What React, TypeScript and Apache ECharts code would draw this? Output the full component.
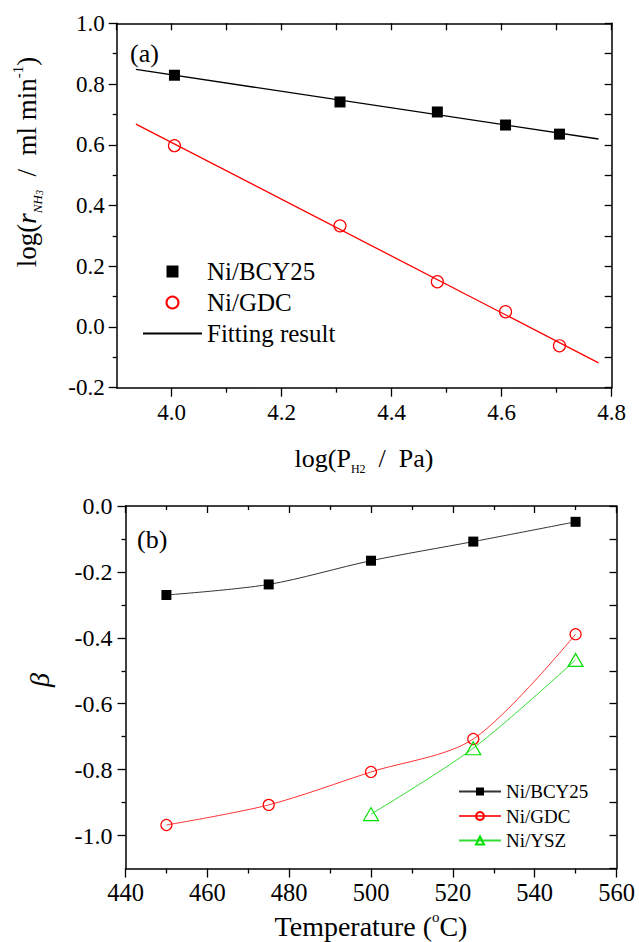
import React, { useEffect, useRef } from 'react';
import * as echarts from 'echarts';

// ---- panel (a) data ----
const logPH2 = [4.005, 4.306, 4.483, 4.607, 4.705];
const rateBCY25 = [0.829, 0.741, 0.708, 0.665, 0.635];
const rateGDC = [0.597, 0.333, 0.149, 0.05, -0.062];
const fitLogPH2 = [3.935, 4.776];
const fitBCY25 = [0.848, 0.619];
const fitGDC = [0.668, -0.118];

// ---- panel (b) data ----
const temperatures = [450, 475, 500, 525, 550];
const betaBCY25 = [-0.27, -0.238, -0.166, -0.108, -0.048];
const betaGDC = [-0.968, -0.907, -0.807, -0.707, -0.389];
const temperaturesYSZ = [500, 525, 550];
const betaYSZ = [-0.935, -0.735, -0.467];

// ---- tick labels ----
const xTicksA = [4.0, 4.2, 4.4, 4.6, 4.8];
const xMinorTicksA = [4.1, 4.3, 4.5, 4.7];
const yTicksB = [-1.0, -0.8, -0.6, -0.4, -0.2, 0.0];
const yMinorTicksB = [-0.9, -0.7, -0.5, -0.3, -0.1];

const FONT = "'Liberation Serif', 'Times New Roman', serif";
const BLACK = '#000000';
const RED = '#ff0000';
const GREEN = '#00e000';

const pairs = (xs: number[], ys: number[]) => xs.map((x, i) => [x, ys[i]]);

const axisLine = { show: true, onZero: false, lineStyle: { color: BLACK, width: 1.5 } };
const noLine = { show: false, onZero: false };
const tickLine = { color: BLACK, width: 1.3 };
const richLabel = (size: number) => ({
  t: { fontFamily: FONT, fontSize: size, color: BLACK, lineHeight: size + 2 },
});
const fmt1 = (v: number) => `{t|${v.toFixed(1)}}`;
const fmt0 = (v: number) => `{t|${String(v)}}`;

const option: any = {
  animation: false,
  backgroundColor: '#ffffff',
  textStyle: { fontFamily: FONT, color: BLACK },
  grid: [
    { left: 116.7, top: 23.3, width: 495, height: 364.4, outerBoundsMode: 'none' },
    { left: 125.5, top: 506, width: 491, height: 362.5, outerBoundsMode: 'none' },
  ],
  xAxis: [
    {
      type: 'value', gridIndex: 0, position: 'bottom', min: 3.9, max: 4.8,
      axisLine, splitLine: { show: false },
      axisTick: { show: true, customValues: xTicksA, length: 9, lineStyle: tickLine },
      axisLabel: { margin: 12, customValues: xTicksA, formatter: fmt1, rich: richLabel(23) },
    },
    {
      type: 'value', gridIndex: 0, position: 'bottom', min: 3.9, max: 4.8,
      axisLine: noLine, splitLine: { show: false },
      axisTick: { show: true, customValues: xMinorTicksA, length: 5, lineStyle: tickLine },
      axisLabel: { show: false },
    },
    {
      type: 'value', gridIndex: 0, position: 'top', min: 3.9, max: 4.8, interval: 0.1,
      axisLine, splitLine: { show: false },
      axisTick: { show: true, inside: true, length: 7, lineStyle: tickLine },
      axisLabel: { show: false },
    },
    {
      type: 'value', gridIndex: 1, position: 'bottom', min: 440, max: 560, interval: 20,
      axisLine, splitLine: { show: false },
      axisTick: { show: true, length: 9, lineStyle: tickLine },
      minorTick: { show: true, splitNumber: 2, length: 5, lineStyle: tickLine },
      axisLabel: { margin: 11, formatter: fmt0, rich: richLabel(24.5) },
    },
    {
      type: 'value', gridIndex: 1, position: 'top', min: 440, max: 560, interval: 20,
      axisLine, splitLine: { show: false },
      axisTick: { show: true, inside: true, length: 7, lineStyle: tickLine },
      minorTick: { show: true, splitNumber: 2, length: 4, lineStyle: tickLine },
      axisLabel: { show: false },
    },
  ],
  yAxis: [
    {
      type: 'value', gridIndex: 0, position: 'left', min: -0.2, max: 1.0, interval: 0.2,
      axisLine, splitLine: { show: false },
      axisTick: { show: true, length: 8, lineStyle: tickLine },
      minorTick: { show: true, splitNumber: 2, length: 4, lineStyle: tickLine },
      axisLabel: { margin: 12, formatter: fmt1, rich: richLabel(23) },
    },
    {
      type: 'value', gridIndex: 0, position: 'right', min: -0.2, max: 1.0, interval: 0.1,
      axisLine, splitLine: { show: false },
      axisTick: { show: true, inside: true, length: 7, lineStyle: tickLine },
      axisLabel: { show: false },
    },
    {
      type: 'value', gridIndex: 1, position: 'left', min: -1.1, max: 0,
      axisLine, splitLine: { show: false },
      axisTick: { show: true, customValues: yTicksB, length: 8, lineStyle: tickLine },
      axisLabel: { margin: 13, customValues: yTicksB, formatter: fmt1, rich: richLabel(24) },
    },
    {
      type: 'value', gridIndex: 1, position: 'left', min: -1.1, max: 0,
      axisLine: noLine, splitLine: { show: false },
      axisTick: { show: true, customValues: yMinorTicksB, length: 4, lineStyle: tickLine },
      axisLabel: { show: false },
    },
    {
      type: 'value', gridIndex: 1, position: 'right', min: -1.1, max: 0, interval: 0.1,
      axisLine, splitLine: { show: false },
      axisTick: { show: true, inside: true, length: 7, lineStyle: tickLine },
      axisLabel: { show: false },
    },
  ],
  legend: [
    {
      data: [
        { name: 'Ni/BCY25', icon: 'path://M0 0H10V10H0Z' },
        'Ni/GDC',
        { name: 'Fitting result', itemStyle: { opacity: 0 } },
      ],
      formatter: (name: string) => `{t|${name}}`,
      orient: 'vertical', left: 142, top: 259, padding: 0,
      itemWidth: 59, itemHeight: 12, itemGap: 6,
      symbolKeepAspect: true,
      selectedMode: false,
      textStyle: {
        color: BLACK, fontFamily: FONT, fontSize: 25,
        rich: { t: { fontFamily: FONT, fontSize: 25, color: BLACK, lineHeight: 20 } },
      },
    },
    {
      data: ['b-Ni/BCY25', 'b-Ni/GDC', 'b-Ni/YSZ'],
      formatter: (name: string) => `{t|${name.replace('b-', '')}}`,
      orient: 'vertical', left: 458, top: 782, padding: 0,
      itemWidth: 42, itemHeight: 10, itemGap: 5.5,
      selectedMode: false,
      textStyle: {
        color: BLACK, fontFamily: FONT, fontSize: 19,
        rich: { t: { fontFamily: FONT, fontSize: 19, color: BLACK, lineHeight: 16 } },
      },
    },
  ],
  series: [
    {
      name: 'Fitting result', type: 'line', xAxisIndex: 0, yAxisIndex: 0,
      data: pairs(fitLogPH2, fitBCY25), symbol: 'none',
      itemStyle: { color: BLACK }, lineStyle: { color: BLACK, width: 1.3 }, z: 2,
    },
    {
      name: 'fit-GDC', type: 'line', xAxisIndex: 0, yAxisIndex: 0,
      data: pairs(fitLogPH2, fitGDC), symbol: 'none',
      itemStyle: { color: RED }, lineStyle: { color: RED, width: 1.3 }, z: 2,
    },
    {
      name: 'Ni/BCY25', type: 'scatter', xAxisIndex: 0, yAxisIndex: 0,
      data: pairs(logPH2, rateBCY25), symbol: 'rect', symbolSize: 11,
      itemStyle: { color: BLACK, opacity: 1 }, z: 3,
    },
    {
      name: 'Ni/GDC', type: 'scatter', xAxisIndex: 0, yAxisIndex: 0,
      data: pairs(logPH2, rateGDC), symbol: 'circle', symbolSize: 12,
      itemStyle: { color: 'rgba(255,255,255,0)', borderColor: RED, borderWidth: 1.2, opacity: 1 }, z: 3,
    },
    {
      name: 'b-Ni/BCY25', type: 'line', xAxisIndex: 3, yAxisIndex: 2,
      data: pairs(temperatures, betaBCY25), smooth: 0.3,
      symbol: 'rect', symbolSize: 10,
      itemStyle: { color: BLACK }, lineStyle: { color: '#333333', width: 1 }, z: 3,
    },
    {
      name: 'b-Ni/GDC', type: 'line', xAxisIndex: 3, yAxisIndex: 2,
      data: pairs(temperatures, betaGDC), smooth: 0.3,
      symbol: 'circle', symbolSize: 11,
      itemStyle: { color: 'rgba(255,255,255,0)', borderColor: RED, borderWidth: 1.2 },
      lineStyle: { color: '#ff3333', width: 1 }, z: 3,
    },
    {
      name: 'b-Ni/YSZ', type: 'line', xAxisIndex: 3, yAxisIndex: 2,
      data: pairs(temperaturesYSZ, betaYSZ), smooth: 0.3,
      symbol: 'triangle', symbolSize: [15, 13],
      itemStyle: { color: 'rgba(255,255,255,0)', borderColor: GREEN, borderWidth: 1.2 },
      lineStyle: { color: '#33dd33', width: 1 }, z: 3,
    },
  ],
  graphic: [
    {
      type: 'text', x: 130, y: 53,
      style: { text: '(a)', fill: BLACK, fontFamily: FONT, fontSize: 26, align: 'left', verticalAlign: 'middle', textAlign: 'left', textVerticalAlign: 'middle' },
    },
    {
      type: 'text', x: 137, y: 539,
      style: { text: '(b)', fill: BLACK, fontFamily: FONT, fontSize: 26, align: 'left', verticalAlign: 'middle', textAlign: 'left', textVerticalAlign: 'middle' },
    },
    {
      type: 'text', x: 364, y: 458,
      style: {
        text: '{n|log(P}{s|H2}{n|  /  Pa)}',
        fill: BLACK, fontFamily: FONT, fontSize: 26,
        align: 'center', verticalAlign: 'middle', textAlign: 'center', textVerticalAlign: 'middle',
        rich: {
          n: { fontFamily: FONT, fontSize: 26, lineHeight: 34, fill: BLACK },
          s: { fontFamily: FONT, fontSize: 12, lineHeight: 16, verticalAlign: 'bottom', fill: BLACK },
        },
      },
    },
    {
      type: 'text', x: 27, y: 162, rotation: Math.PI / 2,
      style: {
        text: '{n|log(}{i|r}{s|NH}{ss|3}{n|  /  ml min}{p|-1}{n|)}',
        fill: BLACK, fontFamily: FONT, fontSize: 27,
        align: 'center', verticalAlign: 'middle', textAlign: 'center', textVerticalAlign: 'middle',
        rich: {
          n: { fontFamily: FONT, fontSize: 27, lineHeight: 34, fill: BLACK },
          i: { fontFamily: FONT, fontSize: 27, fontStyle: 'italic', lineHeight: 34, fill: BLACK },
          s: { fontFamily: FONT, fontSize: 13, fontStyle: 'italic', lineHeight: 18, verticalAlign: 'bottom', fill: BLACK },
          ss: { fontFamily: FONT, fontSize: 10, fontStyle: 'italic', lineHeight: 14, verticalAlign: 'bottom', fill: BLACK },
          p: { fontFamily: FONT, fontSize: 15, lineHeight: 14, verticalAlign: 'top', fill: BLACK },
        },
      },
    },
    {
      type: 'text', x: 371, y: 926,
      style: {
        text: '{n|Temperature (}{p|o}{n|C)}',
        fill: BLACK, fontFamily: FONT, fontSize: 28,
        align: 'center', verticalAlign: 'middle', textAlign: 'center', textVerticalAlign: 'middle',
        rich: {
          n: { fontFamily: FONT, fontSize: 28, lineHeight: 34, fill: BLACK },
          p: { fontFamily: FONT, fontSize: 15, lineHeight: 14, verticalAlign: 'top', fill: BLACK },
        },
      },
    },
    {
      type: 'text', x: 39, y: 680, rotation: Math.PI / 2,
      style: {
        text: 'β', fill: BLACK, fontFamily: FONT, fontSize: 28, fontStyle: 'italic',
        align: 'center', verticalAlign: 'middle', textAlign: 'center', textVerticalAlign: 'middle',
      },
    },
  ],
};

export default function App() {
  const ref = useRef<HTMLDivElement>(null);
  useEffect(() => {
    const chart = echarts.init(ref.current as HTMLDivElement, null, { renderer: 'svg' });
    chart.setOption(option);
    return () => chart.dispose();
  }, []);
  return (
    <div
      ref={ref}
      style={{ position: 'absolute', left: 0, top: 0, width: 639, height: 942, background: '#ffffff' }}
    />
  );
}
